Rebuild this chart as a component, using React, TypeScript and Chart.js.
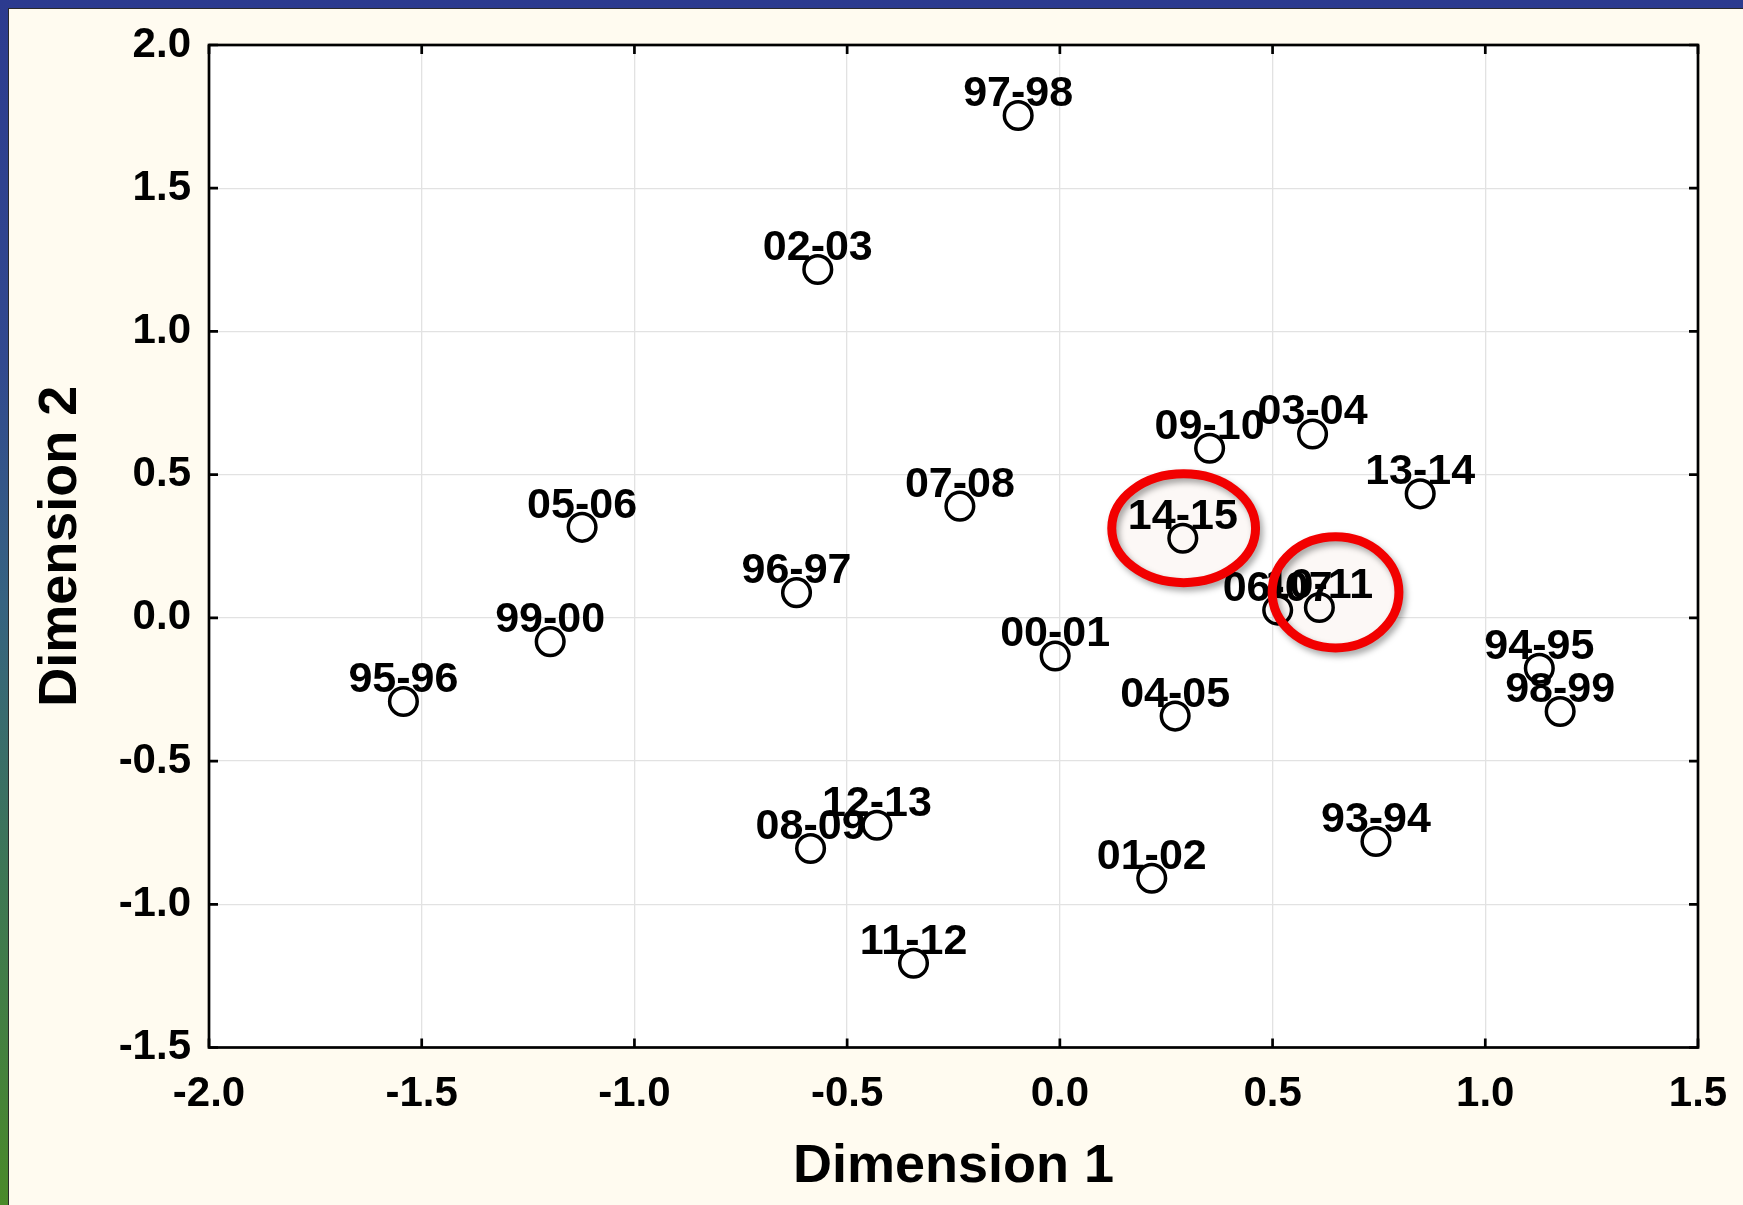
import React, { useEffect, useRef } from "react";
import { Chart, registerables } from "chart.js";

Chart.register(...registerables);

// ---- data ----
const seasons = [
  "93-94", "94-95", "95-96", "96-97", "97-98", "98-99", "99-00", "00-01",
  "01-02", "02-03", "03-04", "04-05", "05-06", "06-07", "07-08", "08-09",
  "09-10", "10-11", "11-12", "12-13", "13-14", "14-15",
];
const dimension1 = [
  0.743, 1.127, -1.543, -0.619, -0.098, 1.176, -1.198, -0.011,
  0.216, -0.569, 0.594, 0.271, -1.123, 0.512, -0.235, -0.586,
  0.352, 0.61, -0.344, -0.43, 0.847, 0.289,
];
const dimension2 = [
  -0.781, -0.176, -0.292, 0.088, 1.754, -0.327, -0.083, -0.133,
  -0.909, 1.216, 0.642, -0.343, 0.316, 0.027, 0.39, -0.805,
  0.592, 0.036, -1.206, -0.724, 0.433, 0.278,
];
const xTicks = [-2.0, -1.5, -1.0, -0.5, 0.0, 0.5, 1.0, 1.5];
const yTicks = [-1.5, -1.0, -0.5, 0.0, 0.5, 1.0, 1.5, 2.0];
// highlighted regions (centre and radii in data units)
const highlightCx = [0.291, 0.648];
const highlightCy = [0.313, 0.089];
const highlightRx = [0.169, 0.149];
const highlightRy = [0.19, 0.194];

const FONT = "'Liberation Sans', Arial, Helvetica, sans-serif";

function ellipseGeom(chart: any, i: number) {
  const xs = chart.scales.x;
  const ys = chart.scales.y;
  const cx = highlightCx[i];
  const cy = highlightCy[i];
  const px = xs.getPixelForValue(cx);
  const py = ys.getPixelForValue(cy);
  const rx = Math.abs(xs.getPixelForValue(cx + highlightRx[i]) - px);
  const ry = Math.abs(ys.getPixelForValue(cy + highlightRy[i]) - py);
  return { px, py, rx, ry };
}

const backgroundPlugin = {
  id: "plotBg",
  beforeDraw(chart: any) {
    const { ctx, chartArea: a } = chart;
    ctx.save();
    ctx.fillStyle = "#ffffff";
    ctx.fillRect(a.left, a.top, a.right - a.left, a.bottom - a.top);
    ctx.restore();
  },
  beforeDatasetsDraw(chart: any) {
    const { ctx } = chart;
    ctx.save();
    highlightCx.forEach((_, i) => {
      const { px, py, rx, ry } = ellipseGeom(chart, i);
      ctx.beginPath();
      ctx.ellipse(px, py, rx, ry, 0, 0, Math.PI * 2);
      ctx.fillStyle = "#fcf8f6";
      ctx.fill();
    });
    ctx.restore();
  },
};

const labelPlugin = {
  id: "pointLabels",
  afterDatasetsDraw(chart: any) {
    const { ctx } = chart;
    const meta = chart.getDatasetMeta(0);
    ctx.save();
    ctx.font = `bold 43px ${FONT}`;
    ctx.fillStyle = "#000";
    ctx.textAlign = "center";
    ctx.textBaseline = "alphabetic";
    meta.data.forEach((el: any, i: number) => {
      ctx.fillText(seasons[i], el.x, el.y - 9.5);
    });
    ctx.restore();
  },
};

const framePlugin = {
  id: "frame",
  afterDraw(chart: any) {
    const { ctx, chartArea: a, scales } = chart;
    const xs = scales.x;
    const ys = scales.y;
    ctx.save();
    ctx.strokeStyle = "#000";
    ctx.lineWidth = 2.7;
    ctx.strokeRect(a.left, a.top, a.right - a.left, a.bottom - a.top);
    const tl = 9;
    ctx.beginPath();
    xTicks.forEach((v) => {
      const px = xs.getPixelForValue(v);
      ctx.moveTo(px, a.bottom);
      ctx.lineTo(px, a.bottom - tl);
      ctx.moveTo(px, a.top);
      ctx.lineTo(px, a.top + tl);
    });
    yTicks.forEach((v) => {
      const py = ys.getPixelForValue(v);
      ctx.moveTo(a.left, py);
      ctx.lineTo(a.left + tl, py);
      ctx.moveTo(a.right, py);
      ctx.lineTo(a.right - tl, py);
    });
    ctx.stroke();

    // highlight ellipse outlines
    highlightCx.forEach((_, i) => {
      const { px, py, rx, ry } = ellipseGeom(chart, i);
      ctx.beginPath();
      ctx.ellipse(px, py, rx, ry, 0, 0, Math.PI * 2);
      ctx.save();
      ctx.shadowColor = "rgba(0,0,0,0.35)";
      ctx.shadowBlur = 6;
      ctx.shadowOffsetX = 3;
      ctx.shadowOffsetY = 4;
      ctx.strokeStyle = "#f20000";
      ctx.lineWidth = 9;
      ctx.stroke();
      ctx.restore();
    });
    ctx.restore();
  },
};

export default function App() {
  const canvasRef = useRef<HTMLCanvasElement | null>(null);

  useEffect(() => {
    if (!canvasRef.current) return;
    const tickFont = { family: FONT, size: 42, weight: "bold" as const };
    const titleFont = { family: FONT, size: 54, weight: "bold" as const };
    const chart = new Chart(canvasRef.current, {
      type: "scatter",
      data: {
        datasets: [
          {
            label: "Seasons",
            data: dimension1.map((x, i) => ({ x, y: dimension2[i] })),
            pointRadius: 13.8,
            pointHoverRadius: 13.8,
            borderWidth: 3.5,
            borderColor: "#000",
            backgroundColor: "rgba(0,0,0,0)",
            pointStyle: "circle",
          },
        ],
      },
      options: {
        responsive: false,
        maintainAspectRatio: false,
        animation: false,
        devicePixelRatio: 1,
        layout: { padding: { left: 29, top: 45, right: 45, bottom: 5 } },
        plugins: {
          legend: { display: false },
          tooltip: { enabled: false },
          title: { display: false },
        },
        events: [],
        scales: {
          x: {
            type: "linear",
            min: -2,
            max: 1.5,
            afterBuildTicks: (s: any) => {
              s.ticks = xTicks.map((v) => ({ value: v }));
            },
            afterFit: (s: any) => {
              s.height = 152.5;
              s.paddingLeft = 0;
              s.paddingRight = 0;
            },
            ticks: {
              color: "#000",
              font: tickFont,
              padding: 22,
              maxRotation: 0,
              autoSkip: false,
              callback: (v: any) => Number(v).toFixed(1),
            },
            grid: { color: "#e2e2e2", lineWidth: 1.3, drawTicks: false },
            border: { display: false },
            title: {
              display: true,
              text: "Dimension 1",
              color: "#000",
              font: titleFont,
              padding: 0,
            },
          },
          y: {
            type: "linear",
            min: -1.5,
            max: 2,
            afterBuildTicks: (s: any) => {
              s.ticks = yTicks.map((v) => ({ value: v }));
            },
            afterFit: (s: any) => {
              s.width = 180;
              s.paddingTop = 0;
              s.paddingBottom = 0;
            },
            ticks: {
              color: "#000",
              font: tickFont,
              padding: 18,
              autoSkip: false,
              callback: (v: any) => Number(v).toFixed(1),
            },
            grid: { color: "#e2e2e2", lineWidth: 1.3, drawTicks: false },
            border: { display: false },
            title: {
              display: true,
              text: "Dimension 2",
              color: "#000",
              font: titleFont,
              padding: 0,
            },
          },
        },
      },
      plugins: [backgroundPlugin, labelPlugin, framePlugin],
    });
    return () => chart.destroy();
  }, []);

  return (
    <div
      style={{
        position: "fixed",
        left: 0,
        top: 0,
        width: 1743,
        height: 1205,
        overflow: "hidden",
        background:
          "linear-gradient(to bottom, #2c3b8f 0%, #32498f 30%, #366381 50%, #3d7656 72%, #4a8a2a 100%)",
      }}
    >
      <div
        style={{
          position: "absolute",
          left: 8,
          top: 8,
          right: 0,
          bottom: 0,
          background: "#fffbf0",
          borderLeft: "1.5px solid #2a2a2a",
          borderTop: "1.5px solid #2a2a2a",
        }}
      />
      <canvas
        ref={canvasRef}
        width={1743}
        height={1205}
        style={{ position: "absolute", left: 0, top: 0, width: 1743, height: 1205 }}
      />
    </div>
  );
}
